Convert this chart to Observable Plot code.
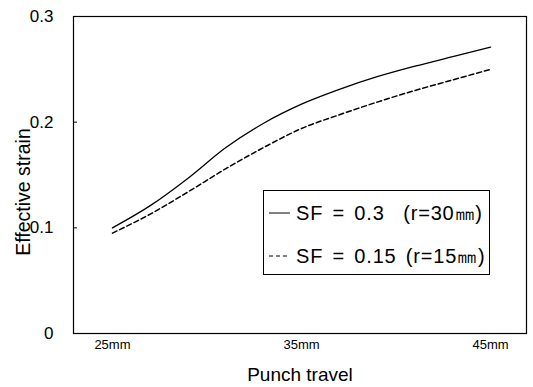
<!DOCTYPE html>
<html>
<head>
<meta charset="utf-8">
<script src="https://cdn.jsdelivr.net/npm/d3@7"></script>
<script src="https://cdn.jsdelivr.net/npm/@observablehq/plot@0.6"></script>
<style>
  html, body { margin: 0; padding: 0; background: #fff; }
  #wrap { position: relative; width: 533px; height: 387px; font-family: Arial, "Liberation Sans", sans-serif; }
  #legend { position: absolute; left: 263px; top: 190px; width: 227px; height: 85px; border: 1px solid #000; background: #fff; box-sizing: border-box; }
  .row { position: absolute; left: 5px; height: 24px; display: flex; align-items: center; font-size: 20px; letter-spacing: 0.8px; word-spacing: 3px; white-space: pre; color: #000; }
  .row svg { margin-right: 6px; }
</style>
</head>
<body>
<div id="wrap"></div>
<script>
// Punch travel (mm)
const travel = [25, 27, 29, 31, 33, 35, 37, 39, 41, 43, 45];
// Effective strain, SF = 0.3 (r=30mm), solid
const sf03 = [0.100, 0.121, 0.147, 0.176, 0.199, 0.217, 0.231, 0.243, 0.253, 0.262, 0.271];
// Effective strain, SF = 0.15 (r=15mm), dashed
const sf015 = [0.095, 0.113, 0.134, 0.156, 0.176, 0.194, 0.207, 0.219, 0.230, 0.240, 0.250];
const seriesNames = ["SF = 0.3  (r=30㎜)", "SF = 0.15 (r=15㎜)"];
const xTicks = [25, 35, 45];
const yTicks = [0, 0.1, 0.2, 0.3];
const xLabel = "Punch travel";
const yLabel = "Effective strain";

const data = travel.flatMap((t, i) => [
  {t, v: sf03[i], s: seriesNames[0]},
  {t, v: sf015[i], s: seriesNames[1]}
]);

const chart = Plot.plot({
  width: 533,
  height: 387,
  marginLeft: 73,
  marginRight: 7,
  marginTop: 16,
  marginBottom: 54,
  style: {fontFamily: "Arial, 'Liberation Sans', sans-serif", background: "#fff", color: "#000"},
  x: {domain: [22.94, 46.9]},
  y: {domain: [0, 0.3]},
  marks: [
    Plot.axisX({ticks: xTicks, tickFormat: d => d + "mm", tickSize: 0, tickPadding: 6, fontSize: 13, label: null}),
    Plot.axisY({ticks: yTicks, tickFormat: d => d === 0 ? "0" : d.toFixed(1), tickSize: 0, tickPadding: 20, fontSize: 17, label: null}),
    Plot.tickY(yTicks.slice(1, 3), {y: d => d, stroke: "#000", strokeWidth: 1, insetRight: 449}),
    Plot.frame({stroke: "#000", strokeWidth: 1.2}),
    Plot.line(data.filter(d => d.s === seriesNames[0]), {x: "t", y: "v", stroke: "#000", strokeWidth: 1.3, curve: "monotone-x"}),
    Plot.line(data.filter(d => d.s === seriesNames[1]), {x: "t", y: "v", stroke: "#000", strokeWidth: 1.5, strokeDasharray: "5,3", curve: "monotone-x"}),
    Plot.text([xLabel], {frameAnchor: "bottom", dy: 47, lineAnchor: "bottom", fontSize: 19, text: d => d}),
    Plot.text([yLabel], {frameAnchor: "left", rotate: -90, dx: -50, dy: 17, textAnchor: "middle", fontSize: 19.5, text: d => d})
  ]
});

const wrap = document.getElementById("wrap");
wrap.appendChild(chart);

const legend = document.createElement("div");
legend.id = "legend";
const dashes = [null, "4,3"];
seriesNames.forEach((name, i) => {
  const row = document.createElement("div");
  row.className = "row";
  row.style.top = (i === 0 ? 10 : 53) + "px";
  const sw = `<svg width="21" height="4"><line x1="0" y1="2" x2="21" y2="2" stroke="#000" stroke-width="1" ${dashes[i] ? `stroke-dasharray="${dashes[i]}"` : ""}/></svg>`;
  row.innerHTML = sw + `<span>${name}</span>`;
  legend.appendChild(row);
});
wrap.appendChild(legend);
</script>
</body>
</html>
